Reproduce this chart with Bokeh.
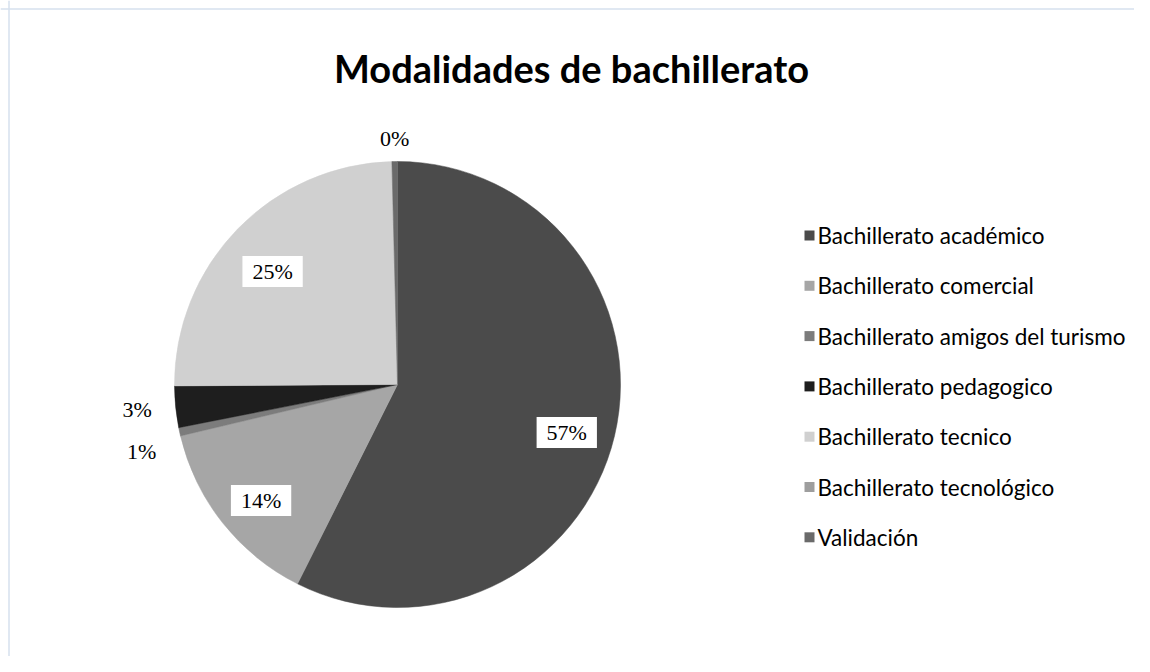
import math
import numpy as np
from bokeh.plotting import figure
from bokeh.models import ColumnDataSource, Span
from bokeh.core.properties import value
from bokeh.embed import file_html
from bokeh.resources import INLINE

# ---------------- data ----------------
title = "Modalidades de bachillerato"
categories = [
    "Bachillerato académico",
    "Bachillerato comercial",
    "Bachillerato amigos del turismo",
    "Bachillerato pedagogico",
    "Bachillerato tecnico",
    "Bachillerato tecnológico",
    "Validación",
]
values = [57.4, 13.9, 0.6, 3.0, 24.7, 0.0, 0.4]
colors = ["#4b4b4b", "#a6a6a6", "#7c7c7c", "#1e1e1e", "#d0d0d0", "#9e9e9e", "#6a6a6a"]
inside = [True, True, False, False, True, False, False]

# ---------------- layout ----------------
W, H = 1134, 656
def sx(X):                # screenshot x -> data x
    return X
def sy(Y):                # screenshot y -> data y
    return H - Y

CX, CY, R = sx(397), sy(384), 223

p = figure(width=W, height=H, x_range=(0, W), y_range=(0, H),
           output_backend="svg", toolbar_location=None,
           x_axis_location=None, y_axis_location=None, min_border=0)
p.grid.visible = False
p.outline_line_color = None
p.background_fill_color = "white"
p.border_fill_color = "white"

# frame lines (left & top visible in reference)
p.add_layout(Span(location=sx(8.5), dimension="height", line_color="#d6e0ee", line_width=1.5))
p.add_layout(Span(location=sy(8.5), dimension="width", line_color="#d6e0ee", line_width=1.5))

# title
p.text(x=[sx(571)], y=[sy(67)], text=[title], text_font=value("Lato"),
       text_font_size="38px", text_font_style="bold", text_color="#000000",
       text_align="center", text_baseline="middle")

# ---------------- pie ----------------
vals = np.array(values, dtype=float)
frac = vals / vals.sum()
cum_end = np.cumsum(frac)
cum_start = cum_end - frac
t0 = 2 * np.pi * cum_start
t1 = 2 * np.pi * cum_end

nz = vals > 0
wsrc = ColumnDataSource(dict(
    start=(np.pi / 2 - t0)[nz], end=(np.pi / 2 - t1)[nz],
    color=[c for c, k in zip(colors, nz) if k],
))
p.wedge(x=CX, y=CY, radius=R, start_angle="start", end_angle="end",
        direction="clock", fill_color="color", line_color="color",
        line_width=0.5, source=wsrc)

# labels
mid = (t0 + t1) / 2
in_x, in_y, in_t = [], [], []
out = []
for i, v in enumerate(values):
    if v <= 0:
        continue
    lab = f"{int(math.floor(v + 0.5))}%"
    s, c = math.sin(mid[i]), math.cos(mid[i])
    if inside[i]:
        r = 0.78 * R
        in_x.append(CX + r * s); in_y.append(CY + r * c - 8); in_t.append(lab)
    else:
        r = R + 10 + 14 * abs(s)
        if abs(s) > 0.5:
            al, bl = ("right" if s < 0 else "left"), "middle"
        else:
            al, bl = "center", ("bottom" if c > 0 else "top")
        out.append([CX + r * s, CY + r * c, lab, al, bl])

# simple overlap avoidance for outside labels (push lower one down)
out.sort(key=lambda o: -o[1])
for a in range(1, len(out)):
    prev, cur = out[a - 1], out[a]
    if abs(prev[0] - cur[0]) < 60 and prev[1] - cur[1] < 42:
        cur[1] = prev[1] - 42

p.text(x=in_x, y=in_y, text=in_t, text_font=value("Liberation Serif"),
       text_font_size="22px", text_color="#000000", text_align="center",
       text_baseline="middle", background_fill_color="white", padding=(10, 3))
p.text(x=[o[0] for o in out], y=[o[1] for o in out], text=[o[2] for o in out],
       text_align=[o[3] for o in out], text_baseline=[o[4] for o in out],
       text_font=value("Liberation Serif"), text_font_size="22px", text_color="#000000")

# ---------------- legend ----------------
n = len(categories)
ly = [sy(235 + 50.3 * i) for i in range(n)]
p.scatter(x=[sx(809)] * n, y=ly, marker="square", size=10, fill_color=colors,
          line_color=None)
p.text(x=[sx(817)] * n, y=ly, text=categories, text_font=value("Lato"),
       text_font_size="22.5px", text_color="#000000", text_align="left",
       text_baseline="middle")

open("out.html", "w").write(file_html(p, INLINE))
